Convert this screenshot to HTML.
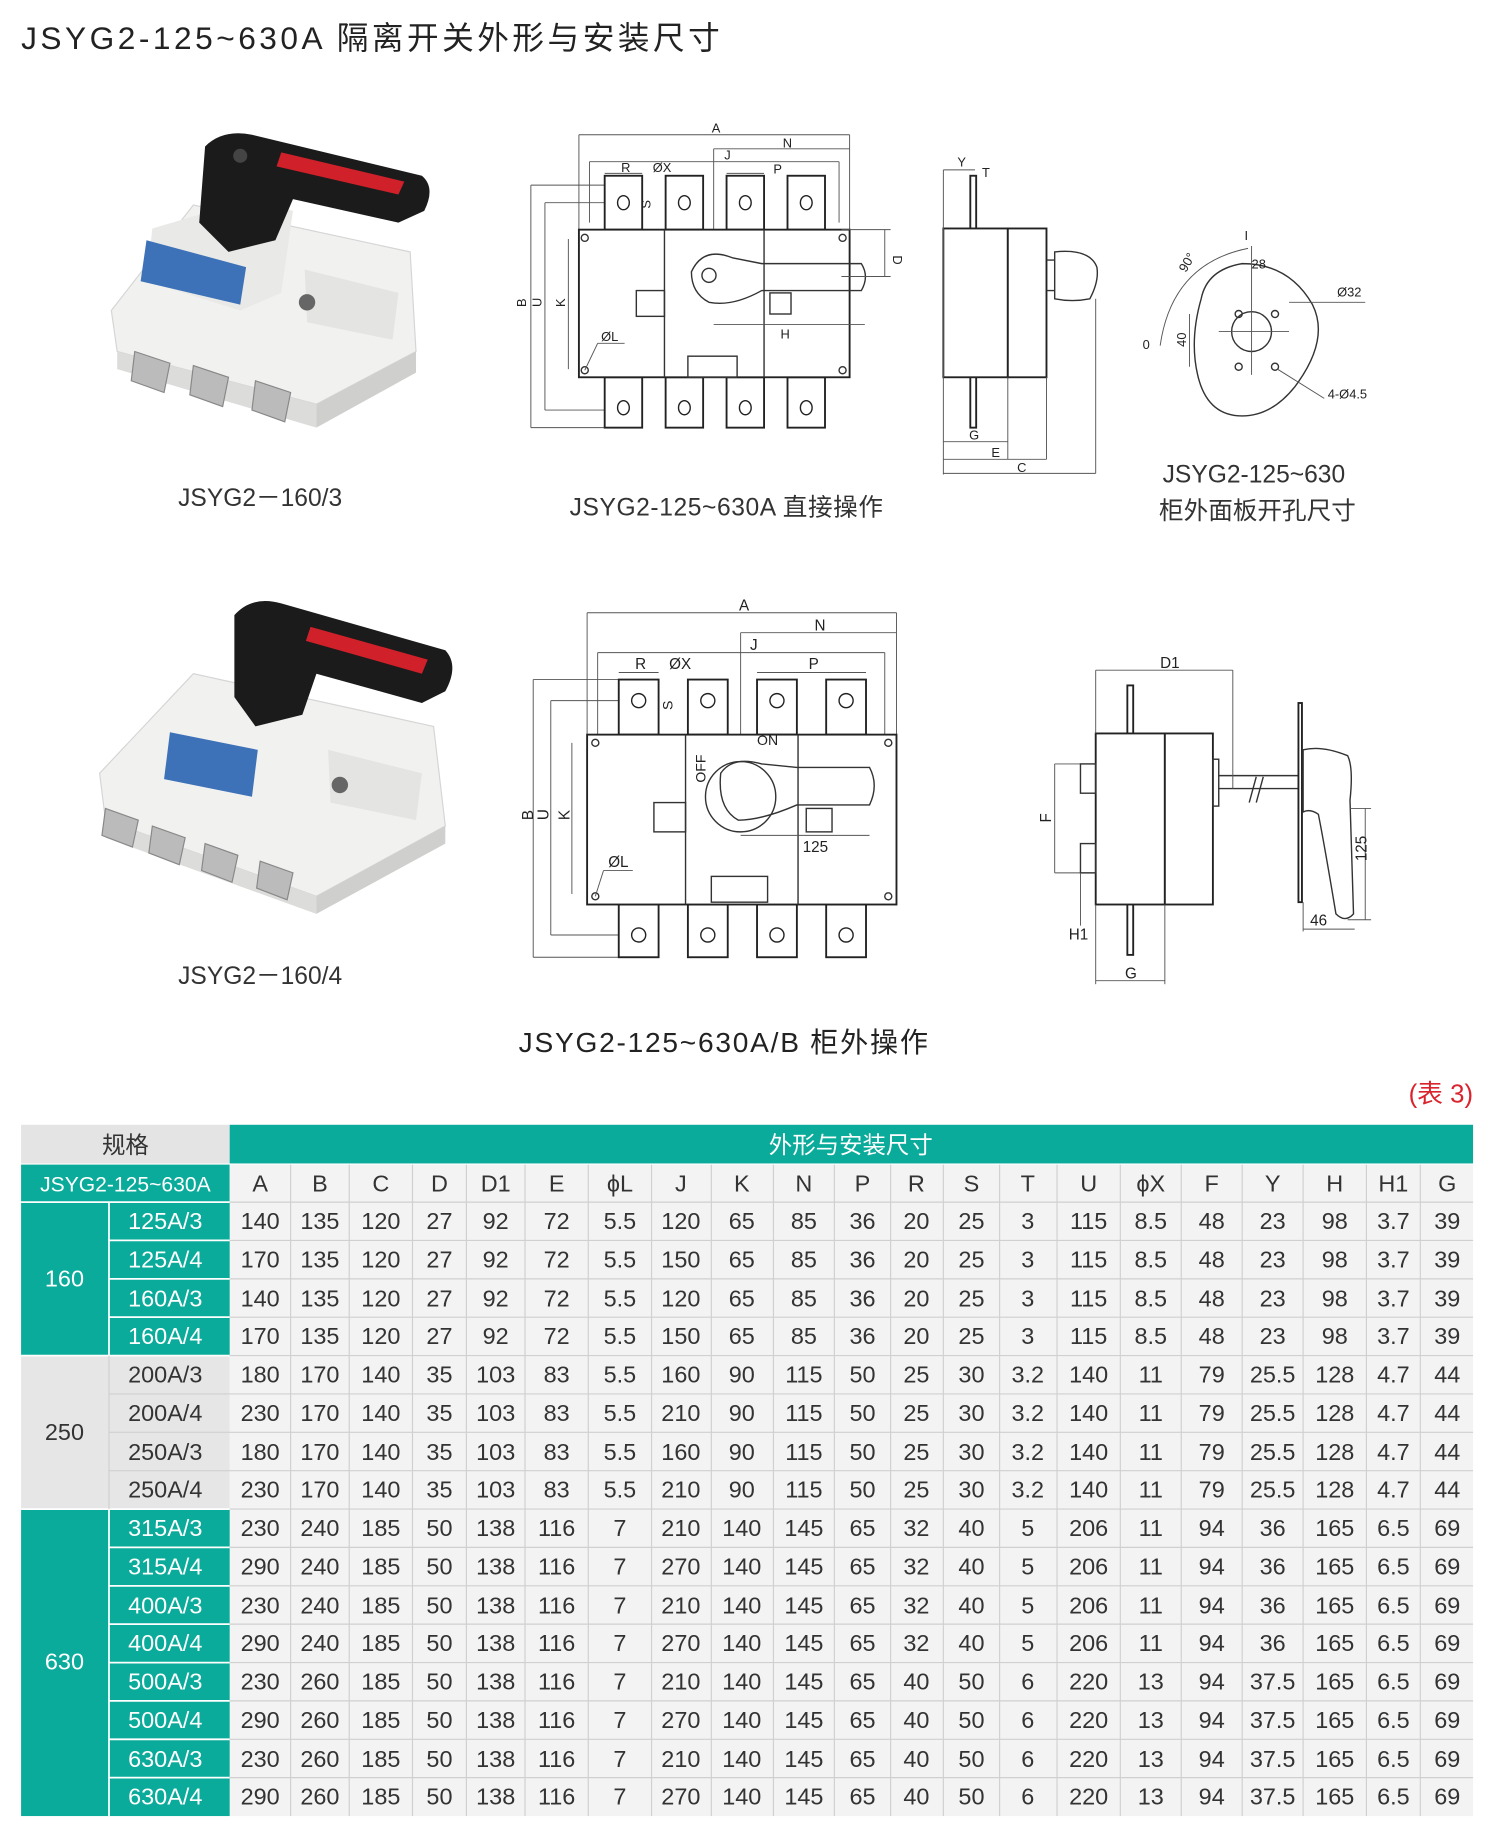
<!DOCTYPE html>
<html><head><meta charset="utf-8"><style>
html,body{margin:0;padding:0;background:#fff}
svg{display:block}
text{font-family:"Liberation Sans","Noto Sans CJK SC",sans-serif}
.ln{stroke:#333;stroke-width:1.2;fill:none}
.th{stroke:#555;stroke-width:0.8;fill:none}
.bd{stroke:#222;stroke-width:1.6;fill:#fff}
.sm{font-size:11px;fill:#222}
.cap{font-size:21px;fill:#333}
.d text{font-size:20px;fill:#333;text-anchor:middle}
.s text{font-size:20px;fill:#fff;text-anchor:middle}
.g text{font-size:20px;fill:#333;text-anchor:middle}
</style></head><body>
<svg width="1500" height="1843" viewBox="0 0 1280 1573" preserveAspectRatio="none" xmlns="http://www.w3.org/2000/svg">
<rect width="1280" height="1573" fill="#fff"/>
<text x="18" y="42" font-size="27" fill="#222" letter-spacing="3">JSYG2-125~630A 隔离开关外形与安装尺寸</text>

<!-- Photo 1 -->
<g>
<polygon points="95,265 165,175 350,215 355,300 270,345 100,300" fill="#f1f1ef" stroke="#d5d5d5"/>
<polygon points="100,300 270,345 270,365 100,315" fill="#dcdcda"/>
<polygon points="270,345 355,300 355,318 270,365" fill="#cfcfcd"/>
<polygon points="130,195 215,170 250,180 240,250 205,265 125,240" fill="#e9e9e7"/>
<polygon points="125,205 210,228 205,260 120,240" fill="#3d72b8"/>
<polygon points="260,230 340,250 335,290 262,275" fill="#e4e4e2"/>
<polygon points="115,300 145,310 140,335 112,325" fill="#bbb" stroke="#888"/>
<polygon points="165,312 195,322 190,347 162,337" fill="#bbb" stroke="#888"/>
<polygon points="218,325 248,335 243,360 215,350" fill="#bbb" stroke="#888"/>
<circle cx="262" cy="258" r="7" fill="#666"/>
<path d="M175,125 Q190,110 215,115 L360,150 Q372,160 362,180 L340,190 L250,170 L235,205 L195,215 L170,190 Z" fill="#1b1b1b"/>
<path d="M240,130 L345,155 L340,166 L236,142 Z" fill="#d0202a"/>
<circle cx="205" cy="133" r="6" fill="#444"/>
<text x="222" y="432" class="cap" text-anchor="middle">JSYG2－160/3</text>
</g>

<!-- Photo 2 -->
<g>
<polygon points="85,660 165,575 370,620 380,705 270,765 90,700" fill="#f1f1ef" stroke="#d5d5d5"/>
<polygon points="90,700 270,765 270,780 90,715" fill="#dcdcda"/>
<polygon points="270,765 380,705 380,720 270,780" fill="#cfcfcd"/>
<polygon points="145,625 220,640 215,680 140,665" fill="#3d72b8"/>
<polygon points="280,640 360,660 355,700 282,685" fill="#e4e4e2"/>
<polygon points="90,690 118,700 113,723 87,713" fill="#bbb" stroke="#888"/>
<polygon points="130,705 158,715 153,738 127,728" fill="#bbb" stroke="#888"/>
<polygon points="175,720 203,730 198,753 172,743" fill="#bbb" stroke="#888"/>
<polygon points="222,735 250,745 245,768 219,758" fill="#bbb" stroke="#888"/>
<circle cx="290" cy="670" r="7" fill="#666"/>
<path d="M200,525 Q215,508 240,515 L380,555 Q392,568 380,590 L360,600 L270,575 L258,610 L218,620 L200,595 Z" fill="#1b1b1b"/>
<path d="M265,535 L365,563 L360,575 L261,547 Z" fill="#d0202a"/>
<text x="222" y="840" class="cap" text-anchor="middle">JSYG2－160/4</text>
</g>

<!-- Drawing 1 front -->
<g>
<line class="th" x1="494" y1="115" x2="725" y2="115"/><line class="th" x1="494" y1="115" x2="494" y2="196"/><line class="th" x1="725" y1="115" x2="725" y2="196"/>
<text x="611" y="113" class="sm" text-anchor="middle">A</text>
<line class="th" x1="609" y1="127" x2="725" y2="127"/><line class="th" x1="609" y1="127" x2="609" y2="196"/>
<text x="668" y="126" class="sm">N</text>
<line class="th" x1="503" y1="138" x2="716" y2="138"/><line class="th" x1="503" y1="138" x2="503" y2="190"/><line class="th" x1="716" y1="138" x2="716" y2="190"/>
<text x="618" y="136" class="sm">J</text>
<line class="th" x1="516" y1="148" x2="548" y2="148"/><text x="530" y="147" class="sm">R</text>
<line class="th" x1="620" y1="148" x2="652" y2="148"/><text x="660" y="148" class="sm">P</text>
<text x="557" y="147" class="sm">ØX</text>
<line class="th" x1="453" y1="158" x2="453" y2="365"/><line class="th" x1="453" y1="158" x2="516" y2="158"/><line class="th" x1="453" y1="365" x2="516" y2="365"/>
<line class="th" x1="465" y1="173" x2="465" y2="350"/><line class="th" x1="465" y1="173" x2="530" y2="173"/><line class="th" x1="465" y1="350" x2="530" y2="350"/>
<line class="th" x1="485" y1="204" x2="485" y2="315"/>
<text x="449" y="262" class="sm" transform="rotate(-90 449 262)">B</text>
<text x="462" y="262" class="sm" transform="rotate(-90 462 262)">U</text>
<text x="482" y="262" class="sm" transform="rotate(-90 482 262)">K</text>
<rect class="bd" x="516" y="150" width="32" height="46"/><rect class="bd" x="568" y="150" width="32" height="46"/><rect class="bd" x="620" y="150" width="32" height="46"/><rect class="bd" x="672" y="150" width="32" height="46"/>
<rect class="bd" x="516" y="322" width="32" height="43"/><rect class="bd" x="568" y="322" width="32" height="43"/><rect class="bd" x="620" y="322" width="32" height="43"/><rect class="bd" x="672" y="322" width="32" height="43"/>
<g fill="none" stroke="#222" stroke-width="1.2"><ellipse cx="532" cy="173" rx="5" ry="6"/><ellipse cx="584" cy="173" rx="5" ry="6"/><ellipse cx="636" cy="173" rx="5" ry="6"/><ellipse cx="688" cy="173" rx="5" ry="6"/>
<ellipse cx="532" cy="348" rx="5" ry="6"/><ellipse cx="584" cy="348" rx="5" ry="6"/><ellipse cx="636" cy="348" rx="5" ry="6"/><ellipse cx="688" cy="348" rx="5" ry="6"/></g>
<text x="555" y="178" class="sm" transform="rotate(-90 555 178)">S</text>
<rect class="bd" x="494" y="196" width="231" height="126"/>
<line class="ln" x1="567" y1="196" x2="567" y2="322"/><line class="ln" x1="652" y1="196" x2="652" y2="322"/>
<circle cx="499" cy="203" r="3" class="ln"/><circle cx="719" cy="203" r="3" class="ln"/><circle cx="499" cy="316" r="3" class="ln"/><circle cx="719" cy="316" r="3" class="ln"/>
<rect class="ln" x="543" y="248" width="24" height="22"/>
<rect class="ln" x="587" y="304" width="42" height="18" stroke-width="1.8"/>
<path class="ln" d="M590,232 Q600,210 625,220 L650,225 L735,225 Q742,236 735,248 L650,248 Q625,262 605,258 Q590,250 590,232 Z" fill="#fff"/>
<circle cx="605" cy="235" r="6" class="ln"/>
<rect class="ln" x="657" y="250" width="18" height="18"/>
<line class="th" x1="718" y1="196" x2="760" y2="196"/><line class="th" x1="718" y1="236" x2="760" y2="236"/><line class="th" x1="755" y1="196" x2="755" y2="236"/>
<text x="762" y="218" class="sm" transform="rotate(90 762 218)">D</text>
<line class="th" x1="609" y1="277" x2="738" y2="277"/><text x="666" y="289" class="sm">H</text>
<text x="513" y="291" class="sm">ØL</text><line class="th" x1="510" y1="293" x2="533" y2="293"/><line class="th" x1="510" y1="293" x2="499" y2="316"/>
<text x="620" y="440" class="cap" text-anchor="middle" letter-spacing="0.5">JSYG2-125~630A 直接操作</text>
</g>

<!-- Side view 1 -->
<g>
<rect class="bd" x="828" y="150" width="5" height="215"/>
<rect class="bd" x="805" y="195" width="55" height="127"/><rect class="bd" x="860" y="195" width="33" height="127"/>
<path class="ln" d="M893,222 L900,222 L900,248 L893,248 M900,215 Q930,212 936,228 Q938,240 930,255 Q915,258 900,255 Z" fill="#fff"/>
<line class="th" x1="805" y1="145" x2="805" y2="405"/><line class="th" x1="805" y1="145" x2="832" y2="145"/><text x="817" y="142" class="sm">Y</text>
<text x="838" y="151" class="sm">T</text>
<line class="th" x1="805" y1="377" x2="860" y2="377"/><line class="th" x1="860" y1="322" x2="860" y2="392"/><text x="827" y="375" class="sm">G</text>
<line class="th" x1="805" y1="392" x2="893" y2="392"/><line class="th" x1="893" y1="322" x2="893" y2="392"/><text x="846" y="390" class="sm">E</text>
<line class="th" x1="805" y1="404" x2="935" y2="404"/><line class="th" x1="935" y1="255" x2="935" y2="404"/><text x="868" y="403" class="sm">C</text>
</g>

<!-- Panel cutout -->
<g>
<path class="ln" d="M1025,255 Q1030,230 1060,225 Q1100,225 1120,260 Q1135,290 1105,330 Q1085,355 1060,355 Q1030,355 1022,320 Q1015,290 1025,255 Z" stroke-width="1.4"/>
<circle class="ln" cx="1068" cy="283" r="17"/>
<circle class="ln" cx="1057" cy="268" r="3"/><circle class="ln" cx="1088" cy="268" r="3"/><circle class="ln" cx="1057" cy="313" r="3"/><circle class="ln" cx="1088" cy="313" r="3"/>
<line class="th" x1="1040" y1="283" x2="1100" y2="283"/><line class="th" x1="1068" y1="210" x2="1068" y2="320"/>
<path class="th" d="M1065,212 Q1000,225 990,295"/>
<text x="975" y="298" class="sm">0</text><text x="1012" y="233" class="sm" transform="rotate(-60 1012 233)">90°</text>
<text x="1062" y="205" class="sm">I</text><text x="1068" y="229" class="sm">28</text>
<text x="1141" y="253" class="sm">Ø32</text><line class="th" x1="1100" y1="258" x2="1165" y2="258"/>
<text x="1133" y="340" class="sm">4-Ø4.5</text><line class="th" x1="1090" y1="315" x2="1130" y2="340"/>
<line class="th" x1="1015" y1="268" x2="1015" y2="313"/><text x="1012" y="296" class="sm" transform="rotate(-90 1012 296)">40</text>
<text x="1070" y="412" class="cap" text-anchor="middle">JSYG2-125~630</text>
<text x="1073" y="443" class="cap" text-anchor="middle">柜外面板开孔尺寸</text>
</g>

<!-- Drawing 2 front -->
<g>
<line class="th" x1="501" y1="523" x2="765" y2="523"/><line class="th" x1="501" y1="523" x2="501" y2="627"/><line class="th" x1="765" y1="523" x2="765" y2="627"/>
<text x="635" y="521" font-size="13" fill="#222" text-anchor="middle">A</text>
<line class="th" x1="632" y1="540" x2="765" y2="540"/><line class="th" x1="632" y1="540" x2="632" y2="627"/><text x="695" y="538" font-size="13" fill="#222">N</text>
<line class="th" x1="510" y1="557" x2="755" y2="557"/><line class="th" x1="510" y1="557" x2="510" y2="627"/><line class="th" x1="755" y1="557" x2="755" y2="627"/><text x="640" y="555" font-size="13" fill="#222">J</text>
<line class="th" x1="528" y1="574" x2="562" y2="574"/><text x="542" y="571" font-size="13" fill="#222">R</text>
<text x="571" y="571" font-size="13" fill="#222">ØX</text>
<line class="th" x1="646" y1="574" x2="739" y2="574"/><text x="690" y="571" font-size="13" fill="#222">P</text>
<line class="th" x1="455" y1="580" x2="455" y2="817"/><line class="th" x1="455" y1="580" x2="528" y2="580"/><line class="th" x1="455" y1="817" x2="528" y2="817"/>
<line class="th" x1="470" y1="598" x2="470" y2="798"/><line class="th" x1="470" y1="598" x2="545" y2="598"/><line class="th" x1="470" y1="798" x2="545" y2="798"/>
<line class="th" x1="488" y1="634" x2="488" y2="763"/>
<text x="455" y="700" font-size="13" fill="#222" transform="rotate(-90 455 700)">B</text>
<text x="468" y="700" font-size="13" fill="#222" transform="rotate(-90 468 700)">U</text>
<text x="486" y="700" font-size="13" fill="#222" transform="rotate(-90 486 700)">K</text>
<rect class="bd" x="528" y="580" width="34" height="47"/><rect class="bd" x="587" y="580" width="34" height="47"/><rect class="bd" x="646" y="580" width="34" height="47"/><rect class="bd" x="705" y="580" width="34" height="47"/>
<rect class="bd" x="528" y="772" width="34" height="45"/><rect class="bd" x="587" y="772" width="34" height="45"/><rect class="bd" x="646" y="772" width="34" height="45"/><rect class="bd" x="705" y="772" width="34" height="45"/>
<g fill="none" stroke="#222" stroke-width="1.2"><circle cx="545" cy="598" r="6"/><circle cx="604" cy="598" r="6"/><circle cx="663" cy="598" r="6"/><circle cx="722" cy="598" r="6"/>
<circle cx="545" cy="798" r="6"/><circle cx="604" cy="798" r="6"/><circle cx="663" cy="798" r="6"/><circle cx="722" cy="798" r="6"/></g>
<text x="574" y="606" font-size="12" fill="#222" transform="rotate(-90 574 606)">S</text>
<rect class="bd" x="501" y="627" width="264" height="145"/>
<line class="ln" x1="585" y1="627" x2="585" y2="772"/><line class="ln" x1="681" y1="627" x2="681" y2="772"/>
<circle cx="508" cy="634" r="3" class="ln"/><circle cx="758" cy="634" r="3" class="ln"/><circle cx="508" cy="765" r="3" class="ln"/><circle cx="758" cy="765" r="3" class="ln"/>
<rect class="ln" x="558" y="685" width="27" height="25"/>
<rect class="ln" x="607" y="748" width="48" height="22" stroke-width="1.8"/>
<circle class="ln" cx="632" cy="680" r="30"/>
<path class="ln" d="M615,660 Q625,645 650,652 L680,655 L742,655 Q750,670 742,687 L680,687 Q650,700 630,700 Q612,690 615,660 Z" fill="#fff"/>
<rect class="ln" x="688" y="690" width="22" height="20"/>
<text x="587" y="657" font-size="12" fill="#222" transform="rotate(-90 600 655)">OFF</text>
<text x="646" y="636" font-size="12" fill="#222">ON</text>
<line class="th" x1="632" y1="713" x2="742" y2="713"/><text x="685" y="727" font-size="13" fill="#222">125</text>
<text x="519" y="740" font-size="13" fill="#222">ØL</text><line class="th" x1="515" y1="743" x2="540" y2="743"/><line class="th" x1="515" y1="743" x2="508" y2="765"/>
<text x="618" y="898" font-size="24" fill="#222" text-anchor="middle" letter-spacing="1.5">JSYG2-125~630A/B 柜外操作</text>
</g>

<!-- Side view 2 -->
<g>
<rect class="bd" x="962" y="585" width="5" height="230"/>
<rect class="bd" x="935" y="626" width="59" height="146"/><rect class="bd" x="994" y="626" width="41" height="146"/>
<rect class="ln" x="1035" y="648" width="5" height="40"/>
<line class="ln" x1="1040" y1="662" x2="1110" y2="662"/><line class="ln" x1="1040" y1="673" x2="1110" y2="673"/>
<line class="ln" x1="1066" y1="685" x2="1072" y2="663" stroke-width="1.6"/><line class="ln" x1="1072" y1="685" x2="1078" y2="663" stroke-width="1.6"/>
<rect class="bd" x="1108" y="600" width="3" height="170"/>
<path class="ln" d="M1112,640 Q1128,636 1150,645 Q1155,655 1152,683 L1155,780 Q1148,788 1140,780 Q1130,720 1125,695 Q1118,690 1112,693 Z" fill="#fff" stroke-width="1.5"/>
<line class="th" x1="935" y1="572" x2="1052" y2="572"/><line class="th" x1="935" y1="572" x2="935" y2="626"/><line class="th" x1="1052" y1="572" x2="1052" y2="673"/>
<text x="990" y="570" font-size="13" fill="#222">D1</text>
<line class="th" x1="900" y1="652" x2="935" y2="652"/><line class="th" x1="900" y1="652" x2="900" y2="745"/><line class="th" x1="900" y1="745" x2="935" y2="745"/>
<rect class="ln" x="922" y="652" width="13" height="25"/><rect class="ln" x="922" y="720" width="13" height="25"/>
<text x="897" y="702" font-size="13" fill="#222" transform="rotate(-90 897 702)">F</text>
<line class="th" x1="922" y1="745" x2="922" y2="790"/><text x="912" y="802" font-size="13" fill="#222">H1</text>
<line class="th" x1="935" y1="772" x2="935" y2="840"/><line class="th" x1="994" y1="772" x2="994" y2="840"/><line class="th" x1="935" y1="837" x2="994" y2="837"/><text x="960" y="835" font-size="13" fill="#222">G</text>
<line class="th" x1="1152" y1="690" x2="1170" y2="690"/><line class="th" x1="1165" y1="690" x2="1165" y2="785"/><line class="th" x1="1150" y1="785" x2="1170" y2="785"/>
<text x="1166" y="735" font-size="13" fill="#222" transform="rotate(-90 1166 735)">125</text>
<line class="th" x1="1112" y1="793" x2="1156" y2="793"/><line class="th" x1="1112" y1="770" x2="1112" y2="795"/><text x="1118" y="790" font-size="13" fill="#222">46</text>
</g>

<text x="1257" y="941" font-size="22" fill="#d9232d" text-anchor="end">(表 3)</text>

<!-- TABLE -->
<g>
<rect x="18" y="960" width="178" height="33" fill="#e4e4e4"/>
<rect x="196" y="960" width="1061" height="33" fill="#0aab9a"/>
<text x="107" y="984" font-size="20" fill="#333" text-anchor="middle">规格</text>
<text x="726" y="984" font-size="20" fill="#fff" text-anchor="middle">外形与安装尺寸</text>
<rect x="18" y="994" width="178" height="32" fill="#0aab9a"/>
<text x="107" y="1017" font-size="18" fill="#fff" text-anchor="middle">JSYG2-125~630A</text>
<rect x="196" y="994" width="1061" height="556" fill="#f3f3f3"/>
<rect x="18" y="1026" width="75" height="131" fill="#0aab9a"/>
<rect x="93" y="1026" width="103" height="131" fill="#0aab9a"/>
<rect x="18" y="1157" width="178" height="131" fill="#e6e6e6"/>
<rect x="18" y="1288" width="178" height="262" fill="#0aab9a"/>
<g stroke="#fff" stroke-width="1.5">
<line x1="93" y1="1058.7" x2="196" y2="1058.7"/><line x1="93" y1="1091.5" x2="196" y2="1091.5"/><line x1="93" y1="1124.2" x2="196" y2="1124.2"/>
<line x1="18" y1="1157" x2="196" y2="1157"/><line x1="18" y1="1288" x2="196" y2="1288"/>
<line x1="93" y1="1320.7" x2="196" y2="1320.7"/><line x1="93" y1="1353.5" x2="196" y2="1353.5"/><line x1="93" y1="1386.2" x2="196" y2="1386.2"/><line x1="93" y1="1419" x2="196" y2="1419"/><line x1="93" y1="1451.7" x2="196" y2="1451.7"/><line x1="93" y1="1484.5" x2="196" y2="1484.5"/><line x1="93" y1="1517.2" x2="196" y2="1517.2"/>
<line x1="93" y1="1026" x2="93" y2="1157"/><line x1="93" y1="1288" x2="93" y2="1550"/>
<line x1="18" y1="1026" x2="196" y2="1026"/>
</g>
<g stroke="#d0d0d0" stroke-width="1">
<line x1="93" y1="1189.7" x2="196" y2="1189.7"/><line x1="93" y1="1222.5" x2="196" y2="1222.5"/><line x1="93" y1="1255.2" x2="196" y2="1255.2"/><line x1="93" y1="1157" x2="93" y2="1288"/>
<line x1="196" y1="1026" x2="1257" y2="1026"/>
<line x1="196" y1="1058.7" x2="1257" y2="1058.7"/><line x1="196" y1="1091.5" x2="1257" y2="1091.5"/><line x1="196" y1="1124.2" x2="1257" y2="1124.2"/><line x1="196" y1="1157" x2="1257" y2="1157"/>
<line x1="196" y1="1189.7" x2="1257" y2="1189.7"/><line x1="196" y1="1222.5" x2="1257" y2="1222.5"/><line x1="196" y1="1255.2" x2="1257" y2="1255.2"/><line x1="196" y1="1288" x2="1257" y2="1288"/>
<line x1="196" y1="1320.7" x2="1257" y2="1320.7"/><line x1="196" y1="1353.5" x2="1257" y2="1353.5"/><line x1="196" y1="1386.2" x2="1257" y2="1386.2"/><line x1="196" y1="1419" x2="1257" y2="1419"/>
<line x1="196" y1="1451.7" x2="1257" y2="1451.7"/><line x1="196" y1="1484.5" x2="1257" y2="1484.5"/><line x1="196" y1="1517.2" x2="1257" y2="1517.2"/>
<line x1="248" y1="994" x2="248" y2="1550"/><line x1="298" y1="994" x2="298" y2="1550"/><line x1="352" y1="994" x2="352" y2="1550"/><line x1="398" y1="994" x2="398" y2="1550"/><line x1="448" y1="994" x2="448" y2="1550"/><line x1="502" y1="994" x2="502" y2="1550"/><line x1="556" y1="994" x2="556" y2="1550"/><line x1="607" y1="994" x2="607" y2="1550"/><line x1="660" y1="994" x2="660" y2="1550"/><line x1="712" y1="994" x2="712" y2="1550"/><line x1="760" y1="994" x2="760" y2="1550"/><line x1="805" y1="994" x2="805" y2="1550"/><line x1="853" y1="994" x2="853" y2="1550"/><line x1="902" y1="994" x2="902" y2="1550"/><line x1="956" y1="994" x2="956" y2="1550"/><line x1="1008" y1="994" x2="1008" y2="1550"/><line x1="1060" y1="994" x2="1060" y2="1550"/><line x1="1112" y1="994" x2="1112" y2="1550"/><line x1="1166" y1="994" x2="1166" y2="1550"/><line x1="1212" y1="994" x2="1212" y2="1550"/>
</g>
<text x="55" y="1098" font-size="20" fill="#fff" text-anchor="middle">160</text>
<text x="55" y="1229" font-size="20" fill="#333" text-anchor="middle">250</text>
<text x="55" y="1425" font-size="20" fill="#fff" text-anchor="middle">630</text>
<g class="s">
<text x="141" y="1049">125A/3</text><text x="141" y="1082">125A/4</text><text x="141" y="1115">160A/3</text><text x="141" y="1147">160A/4</text>
<text x="141" y="1311">315A/3</text><text x="141" y="1344">315A/4</text><text x="141" y="1377">400A/3</text><text x="141" y="1409">400A/4</text>
<text x="141" y="1442">500A/3</text><text x="141" y="1475">500A/4</text><text x="141" y="1508">630A/3</text><text x="141" y="1540">630A/4</text>
</g>
<g class="g">
<text x="141" y="1180">200A/3</text><text x="141" y="1213">200A/4</text><text x="141" y="1246">250A/3</text><text x="141" y="1278">250A/4</text>
</g>
<g class="d">
<g transform="translate(0,1017)"><text x="222">A</text><text x="273">B</text><text x="325">C</text><text x="375">D</text><text x="423">D1</text><text x="475">E</text><text x="529">ϕL</text><text x="581">J</text><text x="633">K</text><text x="686">N</text><text x="736">P</text><text x="782">R</text><text x="829">S</text><text x="877">T</text><text x="929">U</text><text x="982">ϕX</text><text x="1034">F</text><text x="1086">Y</text><text x="1139">H</text><text x="1189">H1</text><text x="1235">G</text></g>
</g>
<g class="d">
<g transform="translate(0,1049)"><text x="222">140</text><text x="273">135</text><text x="325">120</text><text x="375">27</text><text x="423">92</text><text x="475">72</text><text x="529">5.5</text><text x="581">120</text><text x="633">65</text><text x="686">85</text><text x="736">36</text><text x="782">20</text><text x="829">25</text><text x="877">3</text><text x="929">115</text><text x="982">8.5</text><text x="1034">48</text><text x="1086">23</text><text x="1139">98</text><text x="1189">3.7</text><text x="1235">39</text></g>
<g transform="translate(0,1082)"><text x="222">170</text><text x="273">135</text><text x="325">120</text><text x="375">27</text><text x="423">92</text><text x="475">72</text><text x="529">5.5</text><text x="581">150</text><text x="633">65</text><text x="686">85</text><text x="736">36</text><text x="782">20</text><text x="829">25</text><text x="877">3</text><text x="929">115</text><text x="982">8.5</text><text x="1034">48</text><text x="1086">23</text><text x="1139">98</text><text x="1189">3.7</text><text x="1235">39</text></g>
<g transform="translate(0,1115)"><text x="222">140</text><text x="273">135</text><text x="325">120</text><text x="375">27</text><text x="423">92</text><text x="475">72</text><text x="529">5.5</text><text x="581">120</text><text x="633">65</text><text x="686">85</text><text x="736">36</text><text x="782">20</text><text x="829">25</text><text x="877">3</text><text x="929">115</text><text x="982">8.5</text><text x="1034">48</text><text x="1086">23</text><text x="1139">98</text><text x="1189">3.7</text><text x="1235">39</text></g>
<g transform="translate(0,1147)"><text x="222">170</text><text x="273">135</text><text x="325">120</text><text x="375">27</text><text x="423">92</text><text x="475">72</text><text x="529">5.5</text><text x="581">150</text><text x="633">65</text><text x="686">85</text><text x="736">36</text><text x="782">20</text><text x="829">25</text><text x="877">3</text><text x="929">115</text><text x="982">8.5</text><text x="1034">48</text><text x="1086">23</text><text x="1139">98</text><text x="1189">3.7</text><text x="1235">39</text></g>
<g transform="translate(0,1180)"><text x="222">180</text><text x="273">170</text><text x="325">140</text><text x="375">35</text><text x="423">103</text><text x="475">83</text><text x="529">5.5</text><text x="581">160</text><text x="633">90</text><text x="686">115</text><text x="736">50</text><text x="782">25</text><text x="829">30</text><text x="877">3.2</text><text x="929">140</text><text x="982">11</text><text x="1034">79</text><text x="1086">25.5</text><text x="1139">128</text><text x="1189">4.7</text><text x="1235">44</text></g>
<g transform="translate(0,1213)"><text x="222">230</text><text x="273">170</text><text x="325">140</text><text x="375">35</text><text x="423">103</text><text x="475">83</text><text x="529">5.5</text><text x="581">210</text><text x="633">90</text><text x="686">115</text><text x="736">50</text><text x="782">25</text><text x="829">30</text><text x="877">3.2</text><text x="929">140</text><text x="982">11</text><text x="1034">79</text><text x="1086">25.5</text><text x="1139">128</text><text x="1189">4.7</text><text x="1235">44</text></g>
<g transform="translate(0,1246)"><text x="222">180</text><text x="273">170</text><text x="325">140</text><text x="375">35</text><text x="423">103</text><text x="475">83</text><text x="529">5.5</text><text x="581">160</text><text x="633">90</text><text x="686">115</text><text x="736">50</text><text x="782">25</text><text x="829">30</text><text x="877">3.2</text><text x="929">140</text><text x="982">11</text><text x="1034">79</text><text x="1086">25.5</text><text x="1139">128</text><text x="1189">4.7</text><text x="1235">44</text></g>
<g transform="translate(0,1278)"><text x="222">230</text><text x="273">170</text><text x="325">140</text><text x="375">35</text><text x="423">103</text><text x="475">83</text><text x="529">5.5</text><text x="581">210</text><text x="633">90</text><text x="686">115</text><text x="736">50</text><text x="782">25</text><text x="829">30</text><text x="877">3.2</text><text x="929">140</text><text x="982">11</text><text x="1034">79</text><text x="1086">25.5</text><text x="1139">128</text><text x="1189">4.7</text><text x="1235">44</text></g>
<g transform="translate(0,1311)"><text x="222">230</text><text x="273">240</text><text x="325">185</text><text x="375">50</text><text x="423">138</text><text x="475">116</text><text x="529">7</text><text x="581">210</text><text x="633">140</text><text x="686">145</text><text x="736">65</text><text x="782">32</text><text x="829">40</text><text x="877">5</text><text x="929">206</text><text x="982">11</text><text x="1034">94</text><text x="1086">36</text><text x="1139">165</text><text x="1189">6.5</text><text x="1235">69</text></g>
<g transform="translate(0,1344)"><text x="222">290</text><text x="273">240</text><text x="325">185</text><text x="375">50</text><text x="423">138</text><text x="475">116</text><text x="529">7</text><text x="581">270</text><text x="633">140</text><text x="686">145</text><text x="736">65</text><text x="782">32</text><text x="829">40</text><text x="877">5</text><text x="929">206</text><text x="982">11</text><text x="1034">94</text><text x="1086">36</text><text x="1139">165</text><text x="1189">6.5</text><text x="1235">69</text></g>
<g transform="translate(0,1377)"><text x="222">230</text><text x="273">240</text><text x="325">185</text><text x="375">50</text><text x="423">138</text><text x="475">116</text><text x="529">7</text><text x="581">210</text><text x="633">140</text><text x="686">145</text><text x="736">65</text><text x="782">32</text><text x="829">40</text><text x="877">5</text><text x="929">206</text><text x="982">11</text><text x="1034">94</text><text x="1086">36</text><text x="1139">165</text><text x="1189">6.5</text><text x="1235">69</text></g>
<g transform="translate(0,1409)"><text x="222">290</text><text x="273">240</text><text x="325">185</text><text x="375">50</text><text x="423">138</text><text x="475">116</text><text x="529">7</text><text x="581">270</text><text x="633">140</text><text x="686">145</text><text x="736">65</text><text x="782">32</text><text x="829">40</text><text x="877">5</text><text x="929">206</text><text x="982">11</text><text x="1034">94</text><text x="1086">36</text><text x="1139">165</text><text x="1189">6.5</text><text x="1235">69</text></g>
<g transform="translate(0,1442)"><text x="222">230</text><text x="273">260</text><text x="325">185</text><text x="375">50</text><text x="423">138</text><text x="475">116</text><text x="529">7</text><text x="581">210</text><text x="633">140</text><text x="686">145</text><text x="736">65</text><text x="782">40</text><text x="829">50</text><text x="877">6</text><text x="929">220</text><text x="982">13</text><text x="1034">94</text><text x="1086">37.5</text><text x="1139">165</text><text x="1189">6.5</text><text x="1235">69</text></g>
<g transform="translate(0,1475)"><text x="222">290</text><text x="273">260</text><text x="325">185</text><text x="375">50</text><text x="423">138</text><text x="475">116</text><text x="529">7</text><text x="581">270</text><text x="633">140</text><text x="686">145</text><text x="736">65</text><text x="782">40</text><text x="829">50</text><text x="877">6</text><text x="929">220</text><text x="982">13</text><text x="1034">94</text><text x="1086">37.5</text><text x="1139">165</text><text x="1189">6.5</text><text x="1235">69</text></g>
<g transform="translate(0,1508)"><text x="222">230</text><text x="273">260</text><text x="325">185</text><text x="375">50</text><text x="423">138</text><text x="475">116</text><text x="529">7</text><text x="581">210</text><text x="633">140</text><text x="686">145</text><text x="736">65</text><text x="782">40</text><text x="829">50</text><text x="877">6</text><text x="929">220</text><text x="982">13</text><text x="1034">94</text><text x="1086">37.5</text><text x="1139">165</text><text x="1189">6.5</text><text x="1235">69</text></g>
<g transform="translate(0,1540)"><text x="222">290</text><text x="273">260</text><text x="325">185</text><text x="375">50</text><text x="423">138</text><text x="475">116</text><text x="529">7</text><text x="581">270</text><text x="633">140</text><text x="686">145</text><text x="736">65</text><text x="782">40</text><text x="829">50</text><text x="877">6</text><text x="929">220</text><text x="982">13</text><text x="1034">94</text><text x="1086">37.5</text><text x="1139">165</text><text x="1189">6.5</text><text x="1235">69</text></g>
</g>
</g>
</svg>
</body></html>
